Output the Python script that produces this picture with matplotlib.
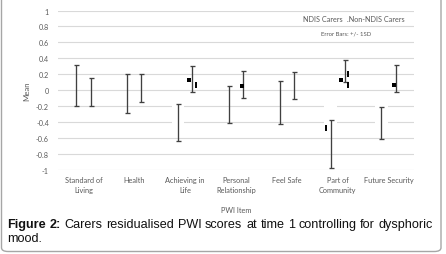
import matplotlib
matplotlib.use("Agg")
import matplotlib.pyplot as plt
from matplotlib.patches import FancyBboxPatch
import numpy as np

# ---------------- data ----------------
categories = ["Standard of\nLiving", "Health", "Achieving in\nLife", "Personal\nRelationship",
              "Feel Safe", "Part of\nCommunity", "Future Security"]
ndis_mean = [0.06, -0.045, -0.405, -0.18, -0.155, -0.68, -0.415]
ndis_sd = [0.258, 0.245, 0.235, 0.237, 0.275, 0.30, 0.20]
non_mean = [-0.02, 0.025, 0.135, 0.07, 0.06, 0.24, 0.145]
non_sd = [0.177, 0.175, 0.165, 0.17, 0.17, 0.14, 0.175]

# stray black point markers visible in the picture (category index, value)
sq_cat = [2, 3, 5, 6]
sq_val = [0.125, 0.05, 0.125, 0.06]
bar_cat = [2, 5, 5, 5]
bar_val = [0.06, 0.2, 0.06, -0.48]
# white boxes that hide the gridlines
box_cat = [2, 5, 6]
box_val = [-0.42, -0.42, -0.42]
box_h = [0.24, 0.24, 0.24]

yticks = [1, 0.8, 0.6, 0.4, 0.2, 0, -0.2, -0.4, -0.6, -0.8, -1]
ytick_labels = ["1", "0.8", "0.6", "0.4", "0.2", "0", "-0.2", "-0.4", "-0.6", "-0.8", "-1"]

caption_bold = "Figure 2:"
caption_line1 = "Carers residualised PWI scores at time 1 controlling for dysphoric"
caption_line2 = "mood."

# ---------------- figure ----------------
W, H = 446, 255
fig = plt.figure(figsize=(W / 100, H / 100), dpi=100)
fig.patch.set_facecolor("white")
FONT = "Lato"
GREY_TXT = "#595959"
BAR_COL = "#404040"

def px(x, y):
    return x / W, 1 - y / H

ax_l, ax_r, ax_t, ax_b = 58, 414, 11.5, 170.7
ax = fig.add_axes([ax_l / W, 1 - ax_b / H, (ax_r - ax_l) / W, (ax_b - ax_t) / H])
ax.set_xlim(-0.5, len(categories) - 0.5)
ax.set_ylim(-1, 1)
for s in ax.spines.values():
    s.set_visible(False)
ax.set_axisbelow(True)
ax.yaxis.grid(True, color="#d9d9d9", linewidth=0.8)
ax.set_yticks(yticks)
ax.set_yticklabels(ytick_labels, fontsize=5.2, color=GREY_TXT, family=FONT)
x = np.arange(len(categories))
ax.set_xticks(x)
ax.set_xticklabels(categories, fontsize=5.3, color=GREY_TXT, family=FONT, linespacing=1.45)
ax.tick_params(axis="both", length=0)
ax.tick_params(axis="y", pad=6.5)
ax.tick_params(axis="x", pad=4.5)

off = 0.14
# white boxes hiding grid lines
ax.bar(np.array(box_cat) - off, box_h, bottom=box_val, width=0.24, color="white", zorder=1)

ax.errorbar(x - off, ndis_mean, yerr=ndis_sd, fmt="none", ecolor=BAR_COL, elinewidth=0.95,
            capsize=1.8, capthick=0.95, zorder=3)
ax.errorbar(x + off, non_mean, yerr=non_sd, fmt="none", ecolor=BAR_COL, elinewidth=0.95,
            capsize=1.8, capthick=0.95, zorder=3)

sq_off = [0.07, 0.12, 0.06, 0.10]
ax.scatter(np.array(sq_cat) + np.array(sq_off), sq_val, marker="s", s=9, color="black", zorder=4, linewidths=0)
bar_off = [0.22, 0.21, 0.21, -0.24]
ax.scatter(np.array(bar_cat) + np.array(bar_off), bar_val, marker="|", s=14, color="black", zorder=4, linewidths=1.4)

ax.set_ylabel("Mean", fontsize=5.6, color=GREY_TXT, family=FONT)
ax.yaxis.set_label_coords((30 - ax_l) / (ax_r - ax_l), 0.5)
ax.set_xlabel("PWI Item", fontsize=5.3, color=GREY_TXT, family=FONT)
ax.xaxis.set_label_coords(0.5, -(207 - ax_b) / (ax_b - ax_t))

# legend-like texts
fig.text(*px(303, 19), "NDIS Carers", fontsize=5.2, color=GREY_TXT, family=FONT, va="center", ha="left")
fig.text(*px(347, 19), ".Non-NDIS Carers", fontsize=5.2, color=GREY_TXT, family=FONT, va="center", ha="left")
fig.text(*px(346, 34), "Error Bars: +/- 1SD", fontsize=4.3, color=GREY_TXT, family=FONT, va="center", ha="center")

# outer rounded frame
frame = FancyBboxPatch((1.5 / W, 1 - 252.5 / H), 439.5 / W, 262 / H,
                       boxstyle="round,pad=0,rounding_size=0.015", transform=fig.transFigure,
                       facecolor="none", edgecolor="#a6a6a6", linewidth=1.0, zorder=10)
fig.patches.append(frame)

# caption (justified first line)
CAP_FONT = "Liberation Sans"
x0, x1 = 7.5, 433.0
fig.canvas.draw()
renderer = fig.canvas.get_renderer()
probe = fig.text(0, 0, caption_bold + " " + caption_line1, fontsize=10, family=CAP_FONT)
w10 = probe.get_window_extent(renderer).width
probe.remove()
CAP_SIZE = 10 * (x1 - x0) / w10 * 0.985

line1 = [(w, "bold") for w in caption_bold.split()] + [(w, "normal") for w in caption_line1.split()]
texts, widths = [], []
for w, wt in line1:
    t = fig.text(0, 0, w, fontsize=CAP_SIZE, family=CAP_FONT, weight=wt, color="#111111", va="baseline")
    texts.append(t)
    widths.append(t.get_window_extent(renderer).width)
gap = (x1 - x0 - sum(widths)) / (len(widths) - 1)
cur = x0
for t, wdt in zip(texts, widths):
    t.set_position(px(cur, 228))
    cur += wdt + gap
fig.text(*px(x0, 242), caption_line2, fontsize=CAP_SIZE, family=CAP_FONT, color="#111111", va="baseline")

fig.savefig("out.png", dpi=100)
